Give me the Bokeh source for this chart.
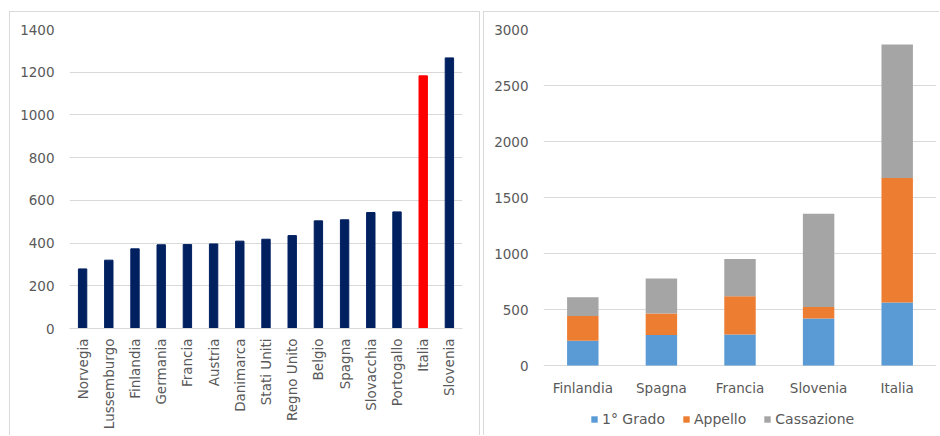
import math
from bokeh.plotting import figure
from bokeh.layouts import row, column
from bokeh.models import ColumnDataSource, Range1d, FactorRange, Legend, LegendItem, FixedTicker
from bokeh.core.properties import value
from bokeh.embed import file_html
from bokeh.resources import INLINE

# ---- data: left chart ----
countries_left = ["Norvegia", "Lussemburgo", "Finlandia", "Germania", "Francia", "Austria",
                  "Danimarca", "Stati Uniti", "Regno Unito", "Belgio", "Spagna", "Slovacchia",
                  "Portogallo", "Italia", "Slovenia"]
values_left = [279, 320, 373, 392, 393, 396, 409, 418, 435, 504, 509, 543, 546, 1183, 1267]
left_ticks = [0, 200, 400, 600, 800, 1000, 1200, 1400]

# ---- data: right chart ----
countries_right = ["Finlandia", "Spagna", "Francia", "Slovenia", "Italia"]
primo_grado = [220, 273, 277, 420, 562]
appello = [223, 191, 342, 103, 1113]
cassazione = [167, 313, 333, 831, 1191]
series_names = ["1° Grado", "Appello", "Cassazione"]
right_ticks = [0, 500, 1000, 1500, 2000, 2500, 3000]

FONT = "DejaVu Sans"
FS = "13.5px"
TXT = "#595959"
GRID = "#d9d9d9"


def style_axes(p, ticks):
    p.xgrid.grid_line_color = None
    p.ygrid.grid_line_color = GRID
    p.ygrid.ticker = FixedTicker(ticks=ticks)
    p.yaxis.ticker = FixedTicker(ticks=ticks)
    p.yaxis.axis_line_color = None
    p.yaxis.major_tick_line_color = None
    p.yaxis.minor_tick_line_color = None
    p.yaxis.major_tick_out = 0
    p.yaxis.major_tick_in = 0
    p.yaxis.major_label_standoff = 15
    p.xaxis.axis_line_color = GRID
    p.xaxis.major_tick_line_color = None
    p.xaxis.minor_tick_line_color = None
    p.xaxis.major_tick_out = 0
    p.xaxis.major_tick_in = 0
    for ax in (p.xaxis, p.yaxis):
        ax.major_label_text_font = FONT
        ax.major_label_text_font_size = FS
        ax.major_label_text_color = TXT
    p.outline_line_color = None
    p.background_fill_color = "white"
    p.border_fill_color = "white"


# ---- left figure ----
src1 = ColumnDataSource(dict(
    country=countries_left,
    value=values_left,
    color=["#FF0000" if c == "Italia" else "#002060" for c in countries_left],
))
p1 = figure(x_range=FactorRange(*countries_left), y_range=Range1d(0, 1400),
            width=469, height=423, output_backend="svg", toolbar_location=None,
            min_border_left=59, min_border_right=17, min_border_top=17, min_border_bottom=107)
p1.vbar(x="country", top="value", width=0.32, color="color", source=src1)
style_axes(p1, left_ticks)
p1.xaxis.major_label_orientation = math.pi / 2
p1.xaxis.major_label_standoff = 10

# ---- right figure ----
src2 = ColumnDataSource(dict(
    country=countries_right,
    **{series_names[0]: primo_grado, series_names[1]: appello, series_names[2]: cassazione}
))
# the frame extends below zero so that the category labels and the legend sit inside it
p2 = figure(x_range=FactorRange(*countries_right), y_range=Range1d(-625, 3000),
            width=455, height=423, output_backend="svg", toolbar_location=None,
            min_border_left=59, min_border_right=3, min_border_top=17, min_border_bottom=0)
renderers = p2.vbar_stack(series_names, x="country", width=0.4,
                          color=["#5B9BD5", "#ED7D31", "#A5A5A5"], line_color=None,
                          source=src2)
style_axes(p2, right_ticks)
p2.xaxis.visible = False
p2.text(x="country", y=0, text="country", source=src2, y_offset=22,
        text_align="center", text_baseline="middle",
        text_font=value(FONT), text_font_size=FS, text_color=TXT)

legend = Legend(items=[LegendItem(label=n, renderers=[r]) for n, r in zip(series_names, renderers)],
                orientation="horizontal", location=(47, 8),
                glyph_width=8, glyph_height=8, label_standoff=4, spacing=17,
                padding=0, margin=0, border_line_color=None, background_fill_alpha=0,
                label_text_font=FONT, label_text_font_size="14px", label_text_color=TXT)
p2.add_layout(legend, "center")

box1 = column(p1, styles={"border": "1px solid #d9d9d9", "border-bottom": "none"})
box2 = column(p2, styles={"border": "1px solid #d9d9d9", "border-bottom": "none",
                          "border-right": "none"})
layout = row(box1, box2, spacing=3, styles={"margin-top": "11px", "margin-left": "9px"})
open("out.html", "w").write(file_html(layout, INLINE))
